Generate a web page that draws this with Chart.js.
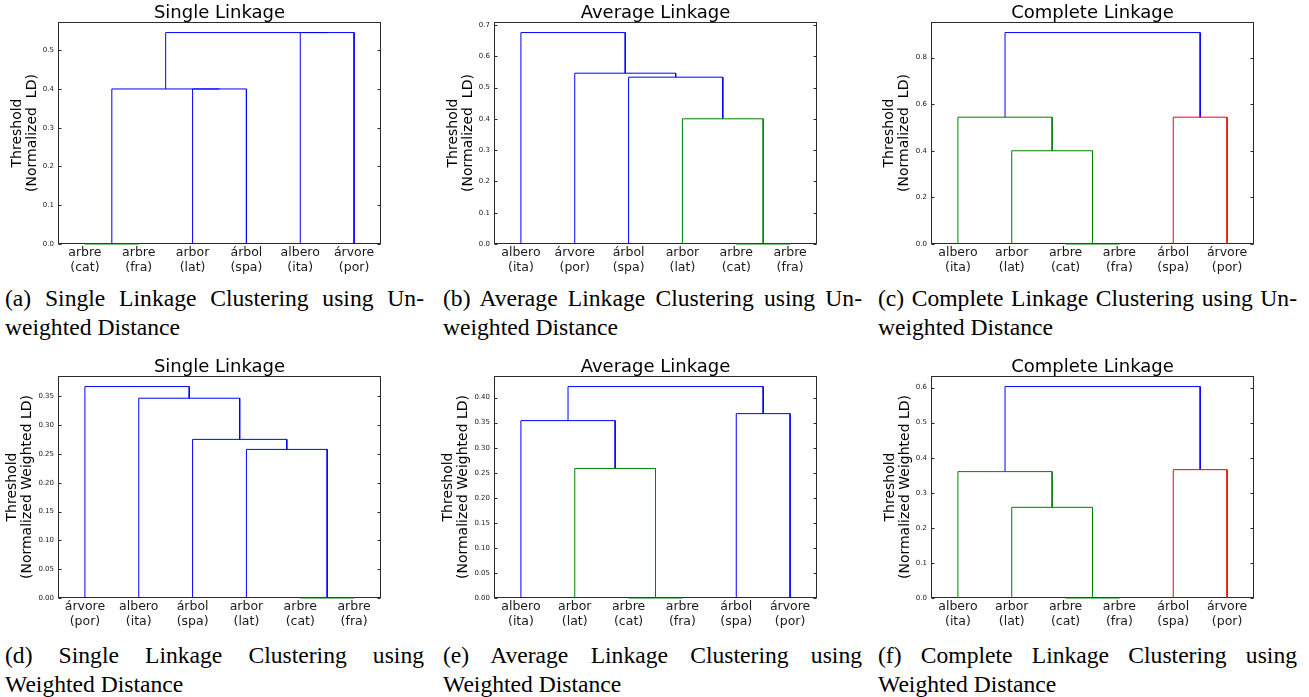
<!DOCTYPE html>
<html><head><meta charset="utf-8">
<script src="https://cdn.jsdelivr.net/npm/chart.js@4"></script>
<style>
html,body{margin:0;padding:0;background:#fff;}
body{width:1309px;height:697px;overflow:hidden;position:relative;}
canvas{position:absolute;}
.cap{position:absolute;width:419px;font-family:"Liberation Serif","Times New Roman",serif;font-size:23.6px;line-height:29px;color:#000;}
.cap div.j{text-align:justify;text-align-last:justify;}
.cap div.n{text-align:left;}
</style>
</head><body>
<script>
// ---------- data ----------
const leavesA = [['arbre','(cat)'],['arbre','(fra)'],['arbor','(lat)'],['árbol','(spa)'],['albero','(ita)'],['árvore','(por)']];
const icoordA = [[5,5,15,15],[25,25,35,35],[10,10,30,30],[45,45,55,55],[20,20,50,50]];
const dcoordA = [[0,0,0,0],[0,0.4,0.4,0],[0,0.4,0.4,0.4],[0,0.5455,0.5455,0],[0.4,0.5455,0.5455,0.5455]];
const colorsA = ['g','b','b','b','b'];
const yTicksA = ['0.0','0.1','0.2','0.3','0.4','0.5'];

const leavesB = [['albero','(ita)'],['árvore','(por)'],['árbol','(spa)'],['arbor','(lat)'],['arbre','(cat)'],['arbre','(fra)']];
const icoordB = [[45,45,55,55],[35,35,50,50],[25,25,42.5,42.5],[15,15,33.75,33.75],[5,5,24.375,24.375]];
const dcoordB = [[0,0,0,0],[0,0.4,0.4,0],[0,0.533,0.533,0.4],[0,0.5457,0.5457,0.533],[0,0.6755,0.6755,0.5457]];
const colorsB = ['g','g','b','b','b'];
const yTicksB = ['0.0','0.1','0.2','0.3','0.4','0.5','0.6','0.7'];

const leavesC = [['albero','(ita)'],['arbor','(lat)'],['arbre','(cat)'],['arbre','(fra)'],['árbol','(spa)'],['árvore','(por)']];
const icoordC = [[25,25,35,35],[15,15,30,30],[5,5,22.5,22.5],[45,45,55,55],[13.75,13.75,50,50]];
const dcoordC = [[0,0,0,0],[0,0.4,0.4,0],[0,0.544,0.544,0.4],[0,0.544,0.544,0],[0.544,0.907,0.907,0.544]];
const colorsC = ['g','g','g','r','b'];
const yTicksC = ['0.0','0.2','0.4','0.6','0.8'];

const leavesD = [['árvore','(por)'],['albero','(ita)'],['árbol','(spa)'],['arbor','(lat)'],['arbre','(cat)'],['arbre','(fra)']];
const icoordD = [[45,45,55,55],[35,35,50,50],[25,25,42.5,42.5],[15,15,33.75,33.75],[5,5,24.375,24.375]];
const dcoordD = [[0,0,0,0],[0,0.2578,0.2578,0],[0,0.2752,0.2752,0.2578],[0,0.3466,0.3466,0.2752],[0,0.3668,0.3668,0.3466]];
const colorsD = ['g','b','b','b','b'];
const yTicksD = ['0.00','0.05','0.10','0.15','0.20','0.25','0.30','0.35'];

const leavesE = [['albero','(ita)'],['arbor','(lat)'],['arbre','(cat)'],['arbre','(fra)'],['árbol','(spa)'],['árvore','(por)']];
const icoordE = [[25,25,35,35],[15,15,30,30],[5,5,22.5,22.5],[45,45,55,55],[13.75,13.75,50,50]];
const dcoordE = [[0,0,0,0],[0,0.2586,0.2586,0],[0,0.354,0.354,0.2586],[0,0.368,0.368,0],[0.354,0.422,0.422,0.368]];
const colorsE = ['g','g','b','b','b'];
const yTicksE = ['0.00','0.05','0.10','0.15','0.20','0.25','0.30','0.35','0.40'];

const leavesF = [['albero','(ita)'],['arbor','(lat)'],['arbre','(cat)'],['arbre','(fra)'],['árbol','(spa)'],['árvore','(por)']];
const icoordF = [[25,25,35,35],[15,15,30,30],[5,5,22.5,22.5],[45,45,55,55],[13.75,13.75,50,50]];
const dcoordF = [[0,0,0,0],[0,0.2586,0.2586,0],[0,0.3604,0.3604,0.2586],[0,0.366,0.366,0],[0.3604,0.6029,0.6029,0.366]];
const colorsF = ['g','g','g','r','b'];
const yTicksF = ['0.0','0.1','0.2','0.3','0.4','0.5','0.6'];

const yTitleUnweighted = ['Threshold','(Normalized  LD)'];
const yTitleWeighted = ['Threshold','(Normalized Weighted LD)'];

const captions = [
  ['(a) Single Linkage Clustering using Un-','weighted Distance'],
  ['(b) Average Linkage Clustering using Un-','weighted Distance'],
  ['(c) Complete Linkage Clustering using Un-','weighted Distance'],
  ['(d) Single Linkage Clustering using','Weighted Distance'],
  ['(e) Average Linkage Clustering using','Weighted Distance'],
  ['(f) Complete Linkage Clustering using','Weighted Distance']
];

// ---------- drawing ----------
const colorMap = {b:'#0000ff', g:'#008000', r:'#ff0000'};
const FONT = 'DejaVu Sans';

const boxPlugin = {
  id:'box',
  beforeDatasetsDraw(chart){
    const {ctx, chartArea:a, scales:{y}} = chart;
    ctx.save();
    ctx.strokeStyle = '#2a2a2a';
    ctx.lineWidth = 1;
    const L = Math.round(a.left)+0.5, R = Math.round(a.right)-0.5, T = Math.round(a.top)+0.5, B = Math.round(a.bottom)-0.5;
    ctx.strokeRect(L, T, R-L, B-T);
    ctx.beginPath();
    y.ticks.forEach(t=>{
      const py = Math.round(y.getPixelForValue(t.value))+0.5;
      ctx.moveTo(L, py); ctx.lineTo(L+3, py);
      ctx.moveTo(R, py); ctx.lineTo(R-3, py);
    });
    ctx.stroke();
    ctx.restore();
  }
};

function makePanel(left, top, title, yTitle, yTitlePad, leaves, icoord, dcoord, colors, yTicks){
  const canvas = document.createElement('canvas');
  canvas.width = 436; canvas.height = 280;
  canvas.style.left = left + 'px'; canvas.style.top = top + 'px';
  canvas.style.width = '436px'; canvas.style.height = '280px';
  document.body.appendChild(canvas);
  const maxH = Math.max(...dcoord.flat());
  const yMax = maxH * 1.05;
  const tickVals = yTicks.map(parseFloat);
  const datasets = icoord.map((xs, i) => ({
    data: xs.map((x, j) => ({x: x, y: dcoord[i][j]})),
    borderColor: colorMap[colors[i]],
    borderWidth: 1,
    pointRadius: 0,
    showLine: true,
    fill: false,
    tension: 0,
    clip: false
  }));
  new Chart(canvas, {
    type: 'scatter',
    data: {datasets},
    options: {
      responsive: false, animation: false, devicePixelRatio: 1,
      layout: {padding: {left: 0, right: 55, top: 0, bottom: 0}},
      plugins: {
        legend: {display: false}, tooltip: {enabled: false},
        title: {display: true, text: title, fullSize: false, color: '#000',
          font: {family: FONT, size: 18, weight: 'normal', lineHeight: 1}, padding: {top: 4, bottom: 0}}
      },
      scales: {
        x: {
          type: 'linear', min: 0, max: 60,
          grid: {display: false, drawTicks: false}, border: {display: false},
          afterFit(s){ s.height = 36; },
          afterBuildTicks(s){ s.ticks = leaves.map((_, i) => ({value: 5 + 10 * i})); },
          ticks: {autoSkip: false, maxRotation: 0, minRotation: 0, padding: 1, color: '#1a1a1a',
            font: {family: FONT, size: 12.5, lineHeight: 1.2},
            callback: (v, i) => leaves[i]}
        },
        y: {
          type: 'linear', min: 0, max: yMax,
          grid: {display: false, drawTicks: false}, border: {display: false},
          afterFit(s){ s.width = 58; },
          afterBuildTicks(s){ s.ticks = tickVals.map(v => ({value: v})); },
          ticks: {padding: 4, color: '#1a1a1a', font: {family: FONT, size: 7},
            callback: (v, i) => yTicks[i]},
          title: {display: true, text: yTitle, color: '#000',
            font: {family: FONT, size: 14, lineHeight: 15/14}, padding: {top: yTitlePad, bottom: 0}}
        }
      }
    },
    plugins: [boxPlugin]
  });
}

makePanel(0, 0, 'Single Linkage', yTitleUnweighted, 9.5, leavesA, icoordA, dcoordA, colorsA, yTicksA);
makePanel(436, 0, 'Average Linkage', yTitleUnweighted, 9.8, leavesB, icoordB, dcoordB, colorsB, yTicksB);
makePanel(873, 0, 'Complete Linkage', yTitleUnweighted, 8.5, leavesC, icoordC, dcoordC, colorsC, yTicksC);
makePanel(0, 354, 'Single Linkage', yTitleWeighted, 4.5, leavesD, icoordD, dcoordD, colorsD, yTicksD);
makePanel(436, 354, 'Average Linkage', yTitleWeighted, 4.8, leavesE, icoordE, dcoordE, colorsE, yTicksE);
makePanel(873, 354, 'Complete Linkage', yTitleWeighted, 9.5, leavesF, icoordF, dcoordF, colorsF, yTicksF);

const capPos = [[5,284],[443,284],[878,284],[5,641],[443,641],[878,641]];
captions.forEach((c, i) => {
  const d = document.createElement('div');
  d.className = 'cap';
  d.style.left = capPos[i][0] + 'px';
  d.style.top = capPos[i][1] + 'px';
  const l1 = document.createElement('div'); l1.className = 'j'; l1.textContent = c[0];
  const l2 = document.createElement('div'); l2.className = 'n'; l2.textContent = c[1];
  d.appendChild(l1); d.appendChild(l2);
  document.body.appendChild(d);
});
</script>
</body></html>
